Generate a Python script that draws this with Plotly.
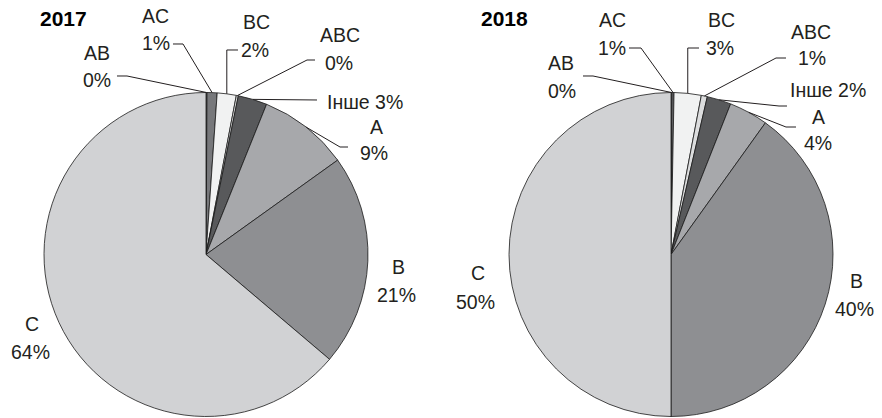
import math
import plotly.graph_objects as go

# ---------------- data ----------------
categories = ["AB", "AC", "BC", "ABC", "Інше", "A", "B", "C"]
values_2017 = [0.1, 1.0, 1.9, 0.2, 2.9, 9.0, 21.1, 63.8]
values_2018 = [0.1, 0.2, 2.7, 0.6, 2.4, 3.9, 40.1, 50.0]
pct_2017 = ["0%", "1%", "2%", "0%", "3%", "9%", "21%", "64%"]
pct_2018 = ["0%", "1%", "3%", "1%", "2%", "4%", "40%", "50%"]
years = ["2017", "2018"]

# ---------------- style ----------------
W, H = 882, 418
colors = ["#a0a1a3", "#77787b", "#f1f2f2", "#dcddde", "#58595b",
          "#a7a8ab", "#8e8f92", "#d1d2d4"]
FONT = "Liberation Sans, Arial, sans-serif"
TXT = "#231f20"
LABEL_SIZE = 19.5
R = 162
centers = [(206, 254.5), (671, 254.5)]
title_pos = [(63, 19), (504, 19)]

# label layout (pixels): name centre, pct centre, leader anchor points (label side)
layout_2017 = {
    "AB":   dict(name=(97, 53), pct=(97, 80), lead=[(117, 76), (127, 76)]),
    "AC":   dict(name=(155.5, 16), pct=(156, 43), lead=[(173, 44), (183, 44)]),
    "BC":   dict(name=(256.5, 21.5), pct=(255, 50), lead=[(238, 50), "vx"]),
    "ABC":  dict(name=(340, 34.5), pct=(339, 63), lead=[(315, 60), (307, 60)]),
    "Інше": dict(single=(364.5, 101.5), lead=[(317, 100)]),
    "A":    dict(name=(376.5, 127), pct=(374, 153), lead=[(348, 147), (340, 147)]),
    "B":    dict(name=(398.5, 267), pct=(396.5, 295), lead=None),
    "C":    dict(name=(31.5, 324), pct=(30, 352), lead=None),
}
layout_2018 = {
    "AB":   dict(name=(561, 63), pct=(561.5, 91), lead=[(583, 76), (593, 76)]),
    "AC":   dict(name=(612, 20), pct=(612, 48), lead=[(629, 48), (641, 48)]),
    "BC":   dict(name=(721.5, 20), pct=(719.5, 48), lead=[(699, 48), "vx"]),
    "ABC":  dict(name=(811, 32), pct=(811.5, 58), lead=[(786, 58), (776, 58)]),
    "Інше": dict(single=(827.5, 90), lead=[(787, 106), (779, 106)]),
    "A":    dict(name=(818.5, 117), pct=(818, 143), lead=[(796, 127), (786, 127)]),
    "B":    dict(name=(856.5, 281), pct=(854.5, 309), lead=None),
    "C":    dict(name=(477.5, 273), pct=(475, 302), lead=None),
}


def px(x):
    return x / W


def py(y):
    return 1 - y / H


def edge_point(values, i, cx, cy, r):
    total = sum(values)
    start = sum(values[:i]) / total
    mid = start + values[i] / total / 2
    th = 2 * math.pi * mid
    return cx + r * math.sin(th), cy - r * math.cos(th)


fig = go.Figure()
shapes = []
annotations = []

for k, (vals, pcts, lay) in enumerate([(values_2017, pct_2017, layout_2017),
                                       (values_2018, pct_2018, layout_2018)]):
    cx, cy = centers[k]
    fig.add_trace(go.Pie(
        labels=categories, values=vals, sort=False, direction="clockwise",
        rotation=0, textinfo="none", hoverinfo="label+percent",
        marker=dict(colors=colors, line=dict(color="#1a1a1a", width=0.8)),
        domain=dict(x=[px(cx - R), px(cx + R)], y=[py(cy + R), py(cy - R)]),
        showlegend=False,
    ))
    annotations.append(dict(
        text="<b>%s</b>" % years[k], x=px(title_pos[k][0]), y=py(title_pos[k][1]),
        xref="paper", yref="paper", xanchor="center", yanchor="middle",
        showarrow=False, font=dict(family=FONT, size=21, color="#000000")))
    for i, cat in enumerate(categories):
        spec = lay[cat]
        if "single" in spec:
            sx, sy = spec["single"]
            annotations.append(dict(
                text="%s %s" % (cat, pcts[i]), x=px(sx), y=py(sy),
                xref="paper", yref="paper", xanchor="center", yanchor="middle",
                showarrow=False, font=dict(family=FONT, size=LABEL_SIZE, color=TXT)))
        else:
            for (tx, ty), t in [(spec["name"], cat), (spec["pct"], pcts[i])]:
                annotations.append(dict(
                    text=t, x=px(tx), y=py(ty),
                    xref="paper", yref="paper", xanchor="center", yanchor="middle",
                    showarrow=False, font=dict(family=FONT, size=LABEL_SIZE, color=TXT)))
        if spec["lead"]:
            ex, ey = edge_point(vals, i, cx, cy, R)
            pts = []
            for p in spec["lead"]:
                if p == "vx":
                    pts.append((ex, pts[-1][1]))
                else:
                    pts.append(p)
            pts.append((ex, ey))
            path = "M %f %f" % (px(pts[0][0]), py(pts[0][1]))
            for (x, y) in pts[1:]:
                path += " L %f %f" % (px(x), py(y))
            shapes.append(dict(type="path", path=path, xref="paper", yref="paper",
                               line=dict(color=TXT, width=1)))

fig.update_layout(
    width=W, height=H, autosize=False,
    margin=dict(l=0, r=0, t=0, b=0, pad=0),
    paper_bgcolor="white", plot_bgcolor="white",
    shapes=shapes, annotations=annotations,
    font=dict(family=FONT),
)

fig.write_html("out.html")
